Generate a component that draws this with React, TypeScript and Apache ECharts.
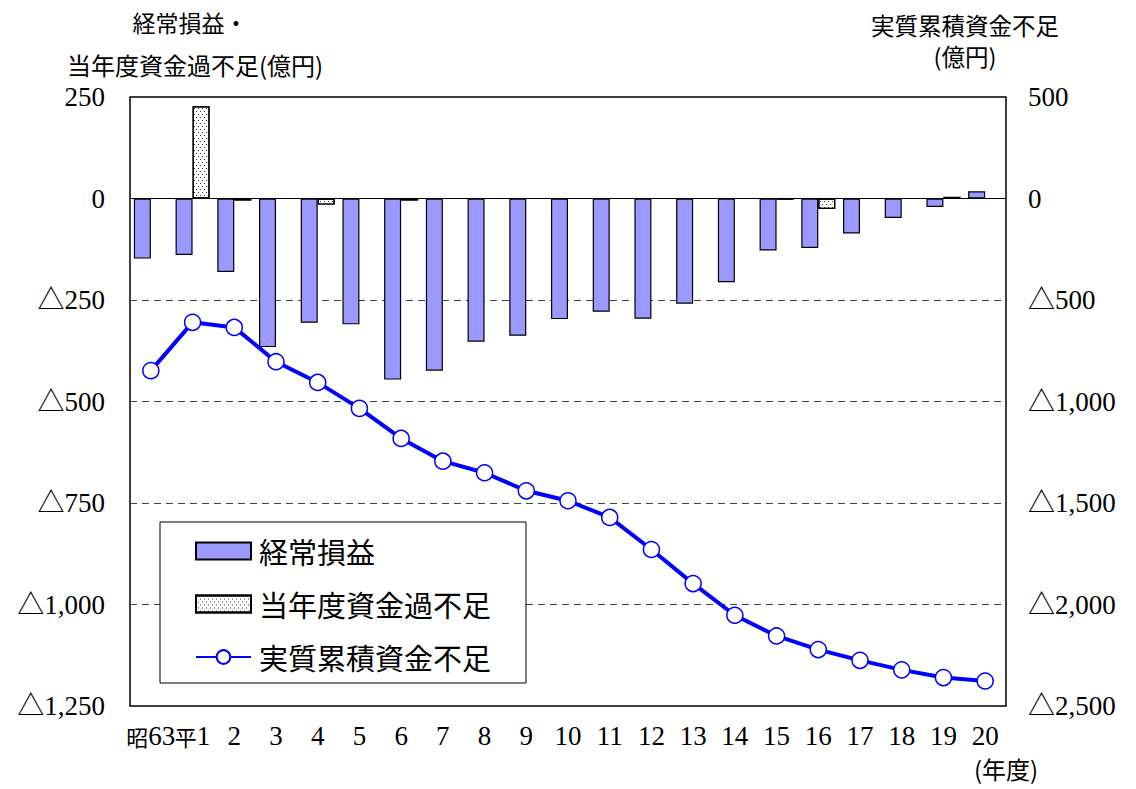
import React, { useEffect, useRef } from "react";
import * as echarts from "echarts";

const categories = ["昭63", "平1", "2", "3", "4", "5", "6", "7", "8", "9", "10", "11", "12", "13", "14", "15", "16", "17", "18", "19", "20"];
const ordinaryProfit = [-148, -139, -181, -366, -306, -310, -446, -424, -353, -338, -297, -279, -296, -259, -206, -128, -122, -86, -48, -21, 18];
const yearlyFundBalance = [0, 227, -5, 0, -15, 0, -5, 0, 0, 0, 0, 0, 0, 0, 0, -3, -26, 0, 0, 4, 0];
const cumulativeShortfall = [-848, -610, -635, -804, -906, -1034, -1182, -1294, -1351, -1440, -1489, -1571, -1729, -1897, -2053, -2155, -2222, -2275, -2322, -2360, -2377];

const seriesNames = ["経常損益", "当年度資金過不足", "実質累積資金不足"];

const NUM_FONT = "Liberation Serif, Noto Sans CJK JP, serif";
const JP_FONT = "Noto Sans CJK JP, sans-serif";

const fmt = (v: number) => (v < 0 ? "△" + Math.abs(v).toLocaleString("en-US") : String(v));

export default function App() {
  const ref = useRef<HTMLDivElement>(null);
  useEffect(() => {
    if (!ref.current) return;
    const chart = echarts.init(ref.current, null, { renderer: "svg" });
    const option: any = {
      animation: false,
      backgroundColor: "#fff",
      grid: {
        left: 130,
        top: 97,
        width: 876,
        height: 609,
        show: true,
        borderColor: "#000",
        borderWidth: 1.5,
        backgroundColor: "transparent",
      },
      legend: {
        orient: "vertical",
        left: 160,
        top: 522,
        backgroundColor: "#fff",
        borderColor: "#000",
        borderWidth: 1,
        borderRadius: 0,
        padding: [14, 35, 11, 35],
        itemWidth: 55,
        itemHeight: 17,
        itemGap: 23,
        textStyle: { fontFamily: JP_FONT, fontSize: 29, lineHeight: 30, color: "#000", padding: [0, 0, 0, 3] },
        data: [
          { name: seriesNames[0], icon: "rect" },
          { name: seriesNames[1], icon: "rect" },
          { name: seriesNames[2] },
        ],
      },
      xAxis: {
        type: "category",
        data: categories,
        position: "bottom",
        axisLine: { show: false, onZero: false },
        axisTick: { show: false },
        axisLabel: {
          interval: 0,
          margin: 16,
          color: "#000",
          fontFamily: NUM_FONT,
          fontSize: 27,
          formatter: (v: string) => v.replace(/([^0-9]+)/g, "{k|$1}"),
          rich: { k: { fontFamily: JP_FONT, fontSize: 22, color: "#000" } },
        },
        splitLine: { show: false },
      },
      yAxis: [
        {
          type: "value",
          min: -1250,
          max: 250,
          interval: 250,
          axisLine: { show: false },
          axisTick: { show: false },
          axisLabel: { margin: 25, color: "#000", fontFamily: NUM_FONT, fontSize: 27, formatter: fmt },
          splitLine: {
            show: true,
            lineStyle: {
              type: [7, 5],
              width: 1.2,
              color: ["transparent", "#444", "#444", "#444", "#444", "transparent", "transparent"],
            },
          },
        },
        {
          type: "value",
          min: -2500,
          max: 500,
          interval: 500,
          axisLine: { show: false },
          axisTick: { show: false },
          axisLabel: { margin: 22, color: "#000", fontFamily: NUM_FONT, fontSize: 27, formatter: fmt },
          splitLine: { show: false },
        },
      ],
      series: [
        {
          name: seriesNames[0],
          type: "bar",
          data: ordinaryProfit,
          barWidth: 17,
          barGap: "0%",
          itemStyle: { color: "#9999FF", borderColor: "#000", borderWidth: 1.2 },
          markLine: {
            silent: true,
            symbol: "none",
            label: { show: false },
            lineStyle: { color: "#000", type: "solid", width: 1.2 },
            data: [{ yAxis: 0 }],
          },
        },
        {
          name: seriesNames[1],
          type: "bar",
          data: yearlyFundBalance,
          barWidth: 17,
          itemStyle: {
            color: "#fff",
            borderColor: "#000",
            borderWidth: 1.2,
            decal: {
              symbol: "rect",
              symbolSize: 1,
              color: "#333",
              backgroundColor: "#fff",
              dashArrayX: [[1, 3], [0, 2, 1, 1]],
              dashArrayY: [1, 2],
              rotation: 0,
            },
          },
        },
        {
          name: seriesNames[2],
          type: "line",
          yAxisIndex: 1,
          data: cumulativeShortfall,
          symbol: "circle",
          symbolSize: 16,
          z: 5,
          lineStyle: { color: "#0000FF", width: 4 },
          itemStyle: { color: "#fff", borderColor: "#0000FF", borderWidth: 1.5 },
        },
      ],
      graphic: [
        { type: "text", x: 190, y: 22, style: { text: "経常損益・", fontFamily: JP_FONT, fontSize: 23, fill: "#000", align: "center", verticalAlign: "middle" } },
        { type: "text", x: 195, y: 64, style: { text: "当年度資金過不足(億円)", fontFamily: JP_FONT, fontSize: 24, fill: "#000", align: "center", verticalAlign: "middle" } },
        { type: "text", x: 965, y: 25, style: { text: "実質累積資金不足", fontFamily: JP_FONT, fontSize: 23.5, fill: "#000", align: "center", verticalAlign: "middle" } },
        { type: "text", x: 965, y: 56, style: { text: "(億円)", fontFamily: JP_FONT, fontSize: 23.5, fill: "#000", align: "center", verticalAlign: "middle" } },
        { type: "text", x: 1006, y: 768, style: { text: "(年度)", fontFamily: JP_FONT, fontSize: 24, fill: "#000", align: "center", verticalAlign: "middle" } },
      ],
    };
    chart.setOption(option);
    return () => chart.dispose();
  }, []);
  return <div ref={ref} style={{ position: "absolute", left: 0, top: 0, width: 1136, height: 789 }} />;
}
